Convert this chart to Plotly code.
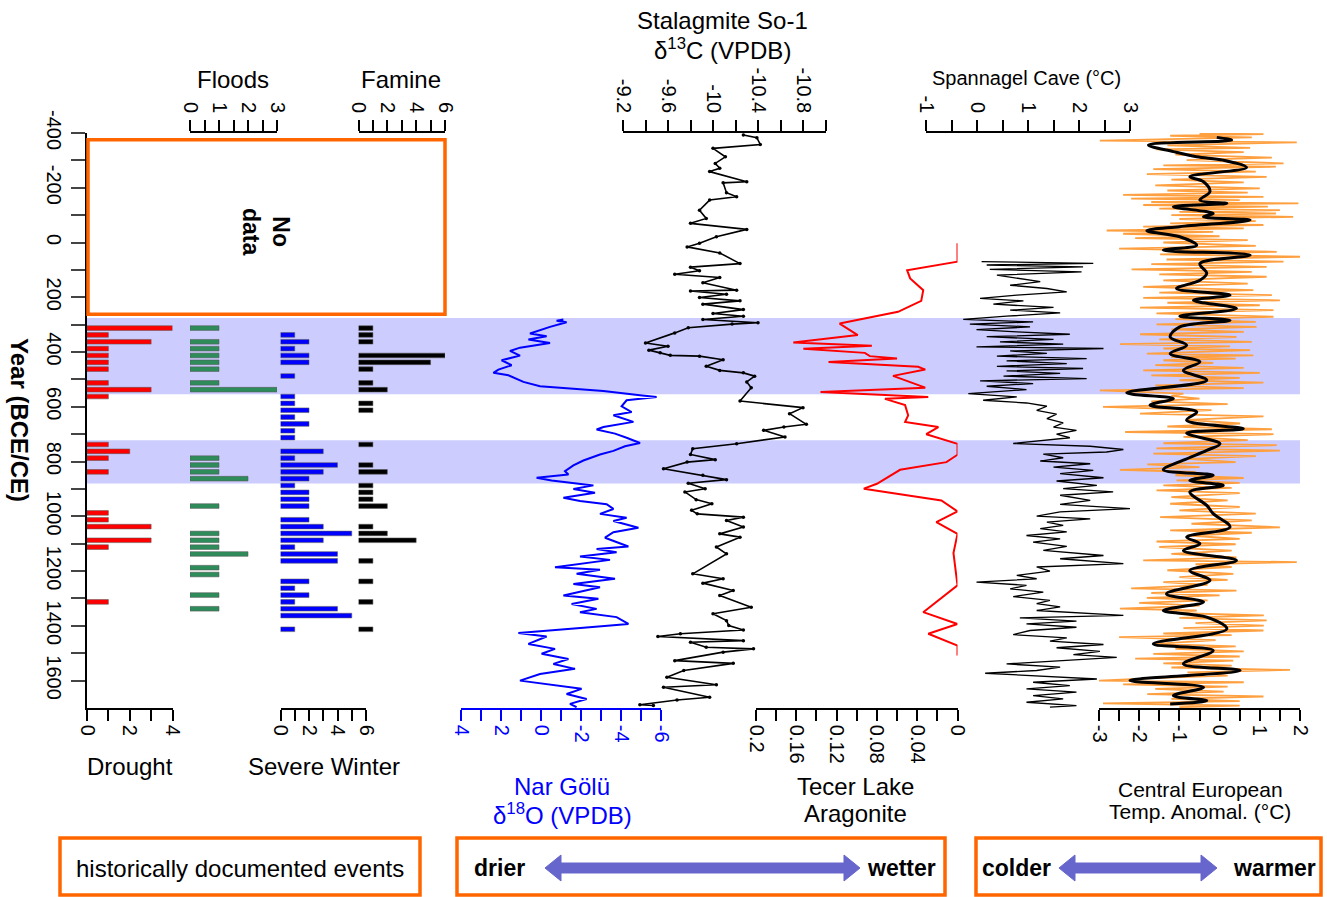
import plotly.graph_objects as go

W, H = 1327, 897
FONT = "Liberation Sans, Arial, sans-serif"

# ---------------- DATA ----------------
# Historically documented events (25-year bins, bin centre year, count)
drought_year = [312.5, 337.5, 362.5, 387.5, 412.5, 437.5, 462.5, 512.5, 537.5, 562.5,
                737.5, 762.5, 787.5, 837.5, 987.5, 1012.5, 1037.5, 1087.5, 1112.5, 1312.5]
drought_count = [4, 1, 3, 1, 1, 1, 1, 1, 3, 1, 1, 2, 1, 1, 1, 1, 3, 3, 1, 1]

flood_year = [312.5, 362.5, 387.5, 412.5, 437.5, 462.5, 512.5, 537.5, 787.5, 812.5, 837.5,
              862.5, 962.5, 1062.5, 1087.5, 1112.5, 1137.5, 1187.5, 1212.5, 1287.5, 1337.5]
flood_count = [1, 1, 1, 1, 1, 1, 1, 3, 1, 1, 1, 2, 1, 1, 1, 1, 2, 1, 1, 1, 1]

winter_year = [337.5, 362.5, 387.5, 412.5, 437.5, 487.5, 562.5, 587.5, 612.5, 637.5, 662.5,
               687.5, 712.5, 762.5, 787.5, 812.5, 837.5, 862.5, 887.5, 912.5, 937.5, 962.5,
               1012.5, 1037.5, 1062.5, 1087.5, 1112.5, 1137.5, 1162.5, 1237.5, 1262.5,
               1287.5, 1312.5, 1337.5, 1362.5, 1412.5]
winter_count = [1, 2, 1, 2, 2, 1, 1, 1, 2, 1, 2, 1, 1, 3, 1, 4, 3, 2, 1, 2, 2, 2, 2, 3, 5, 3,
                1, 4, 4, 2, 1, 2, 1, 4, 5, 1]

famine_year = [312.5, 337.5, 362.5, 412.5, 437.5, 462.5, 512.5, 537.5, 587.5, 612.5, 737.5,
               812.5, 837.5, 887.5, 912.5, 937.5, 962.5, 1037.5, 1062.5, 1087.5, 1162.5,
               1237.5, 1312.5, 1412.5]
famine_count = [1, 1, 1, 6, 5, 1, 1, 2, 1, 1, 1, 1, 2, 1, 1, 1, 2, 1, 2, 4, 1, 1, 1, 1]

# Nar Golu d18O
nar_year = [281, 286, 291, 308, 332, 342, 354, 367, 384, 396, 413, 430, 448, 464, 476, 485,
            509, 525, 534, 542, 558, 564, 576, 598, 619, 631, 655, 674, 683, 698, 713, 732,
            744, 761, 774, 796, 814, 835, 847, 859, 869, 876, 887, 900, 914, 932, 944, 956,
            973, 991, 1005, 1017, 1042, 1058, 1078, 1110, 1119, 1131, 1147, 1159, 1186, 1195,
            1210, 1228, 1247, 1259, 1289, 1301, 1320, 1338, 1350, 1368, 1393, 1407, 1426,
            1439, 1466, 1484, 1502, 1521, 1539, 1557, 1576, 1600, 1615, 1630, 1649, 1667,
            1685, 1697]
nar_d18o = [-1.12, -0.78, -1.28, -0.45, 0.55, -0.28, 0.63, -0.45, 1.05, 1.55, 1.05, 1.97,
            1.47, 2.13, 2.38, 1.63, 0.88, 0.05, -1.62, -3.12, -4.95, -5.78, -4.28, -4.03,
            -4.53, -3.62, -4.62, -3.12, -2.78, -3.70, -4.28, -4.95, -4.20, -3.62, -2.95,
            -2.12, -1.62, -1.20, -1.37, 0.22, -0.53, -1.28, -2.62, -1.62, -2.70, -1.12,
            -1.95, -3.28, -3.62, -2.95, -4.28, -3.62, -4.87, -3.62, -3.20, -4.37, -2.78,
            -3.78, -1.95, -3.45, -0.70, -2.95, -1.78, -3.70, -1.62, -2.95, -1.12, -2.87,
            -1.53, -2.78, -1.95, -3.78, -4.37, -2.12, 1.13, -0.28, 0.63, -0.70, -0.03,
            -1.37, -0.62, -1.70, 0.05, 1.05, -0.62, -2.03, -1.28, -2.28, -1.45, -1.78]

# Stalagmite So-1 d13C
so1_year = [-393, -383, -358, -344, -313, -289, -271, -259, -222, -218, -182, -167, -155,
            -118, -88, -70, -48, -21, 3, 16, 38, 77, 90, 103, 116, 128, 147, 174, 177, 189,
            201, 213, 225, 245, 259, 269, 281, 293, 298, 311, 330, 367, 379, 393, 403, 412,
            415, 428, 452, 467, 476, 488, 509, 530, 579, 603, 625, 664, 674, 686, 710, 735,
            753, 774, 793, 802, 826, 850, 866, 879, 899, 911, 939, 954, 978, 991, 1003, 1015,
            1039, 1064, 1076, 1112, 1137, 1210, 1228, 1244, 1271, 1289, 1332, 1356, 1381,
            1399, 1415, 1429, 1439, 1454, 1460, 1478, 1484, 1496, 1527, 1537, 1563, 1588,
            1615, 1624, 1661, 1671, 1688, 1691]
so1_d13c = [-10.27, -10.39, -10.42, -10.00, -10.11, -10.02, -10.06, -9.97, -10.30, -10.09,
            -10.12, -10.21, -9.97, -9.88, -9.94, -9.80, -10.30, -10.03, -9.88, -9.77,
            -10.06, -10.24, -9.80, -9.88, -9.66, -10.06, -9.91, -10.21, -9.80, -10.12,
            -9.88, -10.24, -9.91, -10.27, -10.00, -10.27, -9.91, -10.40, -10.17, -9.78,
            -9.66, -9.40, -9.60, -9.43, -9.53, -9.62, -9.88, -10.09, -9.94, -10.06, -10.27,
            -10.37, -10.30, -10.34, -10.24, -10.80, -10.68, -10.83, -10.63, -10.45, -10.64,
            -10.21, -9.82, -9.80, -10.02, -9.77, -9.56, -9.91, -10.12, -9.78, -9.93, -9.75,
            -9.85, -9.99, -9.81, -9.86, -10.27, -10.12, -10.27, -10.06, -10.24, -10.03,
            -10.12, -9.82, -10.09, -9.91, -10.18, -10.06, -10.34, -10.00, -10.12, -10.14,
            -10.27, -9.71, -9.51, -10.27, -9.80, -9.94, -10.36, -10.09, -9.66, -10.18,
            -9.74, -9.59, -10.03, -9.56, -9.97, -9.68, -9.35, -9.47]

# Tecer Lake aragonite
tecer_year = [3, 70, 101, 131, 174, 213, 253, 290, 296, 338, 365, 377, 388, 403, 415, 424,
              436, 454, 464, 487, 530, 546, 564, 571, 594, 631, 655, 674, 700, 735, 775, 802,
              830, 881, 899, 942, 982, 1021, 1064, 1134, 1252, 1350, 1393, 1429, 1472, 1508]
tecer_arag = [0.0, 0.0, 0.050, 0.047, 0.034, 0.036, 0.059, 0.107, 0.117, 0.099, 0.163,
              0.085, 0.153, 0.092, 0.087, 0.060, 0.128, 0.039, 0.032, 0.064, 0.032, 0.136,
              0.029, 0.072, 0.052, 0.049, 0.052, 0.019, 0.031, 0.0, 0.0, 0.011, 0.057,
              0.080, 0.093, 0.016, 0.0, 0.021, 0.0, 0.004, 0.0, 0.034, 0.0, 0.029, 0.0, 0.0]

# Spannagel Cave temperature (deg C)
span_year = [70, 76, 82, 89, 98, 107, 119, 131, 143, 156, 168, 180, 192, 204, 213, 225, 237,
             247, 257, 269, 281, 290, 298, 308, 318, 326, 335, 344, 354, 363, 371, 381, 387,
             396, 405, 415, 424, 432, 442, 452, 460, 469, 478, 488, 497, 505, 515, 525, 537,
             552, 564, 576, 586, 598, 613, 627, 643, 659, 674, 686, 700, 713, 734, 744, 756,
             765, 773, 786, 798, 808, 820, 832, 844, 859, 871, 887, 899, 911, 923, 942, 956,
             972, 984, 999, 1009, 1021, 1033, 1045, 1057, 1070, 1082, 1094, 1110, 1124, 1143,
             1155, 1173, 1185, 1200, 1216, 1228, 1240, 1252, 1265, 1277, 1293, 1307, 1319,
             1331, 1344, 1362, 1371, 1383, 1393, 1405, 1417, 1432, 1444, 1456, 1468, 1480,
             1493, 1505, 1515, 1527, 1539, 1551, 1563, 1573, 1582, 1594, 1606, 1618, 1630,
             1642, 1655, 1667, 1679, 1691, 1697]
span_temp = [0.09, 2.28, 0.19, 2.08, 0.25, 2.05, 0.39, 0.78, 1.24, 0.65, 1.37, 1.76, 0.78,
             0.06, 0.91, 0.32, 1.50, 0.65, 1.63, 0.58, -0.27, 1.10, -0.14, 1.04, -0.01, 0.78,
             1.82, 0.19, 1.50, 0.45, 1.69, -0.01, 2.48, 0.65, 1.37, 0.39, 2.15, 0.58, 1.76,
             0.39, 2.08, 0.58, 1.63, 0.52, 2.15, 0.06, 1.10, 0.19, 0.97, -0.17, 0.78, 0.12,
             0.97, 1.37, 1.17, 1.56, 1.37, 1.69, 1.50, 1.95, 1.56, 1.82, 0.71, 2.22, 2.87,
             2.54, 1.30, 1.69, 1.24, 2.22, 1.50, 2.28, 1.63, 2.48, 1.56, 2.35, 1.69, 2.67,
             1.63, 2.22, 1.63, 3.00, 1.63, 1.17, 2.22, 1.37, 1.69, 1.24, 1.76, 0.97, 1.63,
             1.10, 1.76, 1.30, 2.48, 1.63, 2.87, 1.17, 1.43, 0.78, 1.17, -0.01, 0.97, 0.65,
             1.30, 0.71, 1.43, 1.17, 1.63, 1.17, 2.87, 0.84, 1.95, 0.97, 1.95, 1.04, 0.71,
             1.76, 1.43, 2.48, 1.56, 2.41, 1.89, 2.74, 1.63, 0.58, 1.63, 1.17, 0.16, 1.10,
             2.35, 1.10, 1.82, 0.97, 1.95, 1.10, 1.69, 0.97, 1.95, 1.43]

# Central European temperature anomaly: raw (orange) and smoothed (black)
cet_year = [-398, -396, -390, -384, -372, -366, -355, -346, -340, -330, -321, -310, -301,
            -289, -282, -277, -268, -259, -250, -240, -230, -220, -209, -198, -190, -182,
            -174, -167, -160, -155, -148, -143, -137, -131, -124, -118, -112, -106, -100,
            -94, -86, -78, -70, -64, -58, -52, -44, -39, -32, -23, -16, -9, 0, 12, 22, 34,
            43, 52, 62, 70, 79, 89, 98, 107, 116, 125, 138, 150, 162, 174, 183, 192, 202,
            211, 220, 229, 238, 247, 259, 271, 280, 290, 299, 308, 317, 326, 335, 345, 354,
            363, 371, 379, 387, 393, 406, 412, 418, 424, 430, 440, 448, 458, 467, 476, 485,
            494, 503, 512, 522, 532, 540, 552, 560, 570, 580, 590, 600, 612, 625, 635, 648,
            661, 672, 682, 692, 700, 710, 722, 733, 740, 752, 760, 771, 780, 790, 802, 810,
            820, 830, 838, 850, 860, 869, 878, 887, 896, 905, 915, 930, 942, 954, 966, 978,
            990, 1003, 1015, 1027, 1040, 1051, 1060, 1070, 1082, 1092, 1102, 1112, 1125,
            1137, 1150, 1161, 1167, 1175, 1185, 1197, 1210, 1222, 1232, 1240, 1250, 1263,
            1271, 1280, 1289, 1298, 1307, 1316, 1326, 1337, 1344, 1353, 1362, 1371, 1380,
            1390, 1399, 1408, 1417, 1428, 1434, 1441, 1452, 1466, 1475, 1484, 1493, 1502,
            1512, 1520, 1527, 1537, 1545, 1552, 1561, 1570, 1582, 1590, 1600, 1606, 1614,
            1622, 1630, 1640, 1649, 1658, 1667, 1675, 1683, 1691, 1697]
cet_raw = [-0.5, 1.09, -1.23, 0.8, -2.98, 1.92, -1.3, 0.76, -1.57, 0.6, -1.1, 1.3, -0.82,
           1.59, -1.4, 1.4, -1.65, 0.9, -1.81, 1.17, -1.2, 0.6, -1.6, 1.0, -1.3, 0.7, -2.4,
           1.09, -2.2, 0.5, -1.7, 1.96, -1.9, 1.2, -1.5, 1.5, -1.0, 1.4, -1.2, 1.83, -1.0,
           0.9, -1.23, 1.09, -1.9, 0.6, -2.81, -0.16, -2.4, 0.0, -2.1, 0.7, -1.4, 0.9, -2.5,
           1.42, -1.48, 2.0, -1.32, 1.59, -1.7, 1.17, -2.19, 0.8, -1.5, 1.17, -1.4, 0.7,
           -1.9, 0.84, -1.5, 1.3, -1.9, 1.5, -1.3, 1.0, -1.98, 1.34, -1.57, 1.34, -1.1, 0.9,
           -1.57, 0.92, -1.2, 0.6, -1.98, 0.42, -1.5, 0.8, -2.48, 0.26, -1.4, 0.76, -1.81,
           0.84, -1.2, 0.4, -1.4, -0.16, -1.6, 0.6, -1.9, 1.0, -1.7, 0.5, -1.0, 1.09, -1.6,
           0.6, -2.98, -0.9, -1.2, -0.5, -1.7, 0.2, -2.9, -0.2, -1.98, 1.09, -0.8, 0.51,
           -1.3, 1.3, -2.35, 1.34, -0.9, 0.7, -1.4, 1.42, -1.57, 1.5, -1.65, 0.9, -0.8, 0.4,
           -1.8, -0.5, -2.48, -0.6, -1.1, 0.6, -1.07, 0.5, -1.4, 0.3, -1.57, 0.5, -1.2, 0.2,
           -1.23, 0.5, -1.0, 0.9, -1.48, 0.8, -0.7, 1.5, -1.23, 0.8, -0.8, 0.5, -1.57, 0.4,
           -1.5, 0.3, -1.2, 0.42, -1.9, 1.92, -0.6, 0.3, -1.3, 0.34, -1.0, 0.2, -1.4, -0.3,
           -2.2, 0.42, -1.7, 0.0, -1.81, -0.3, -2.0, -0.5, -2.48, -0.57, -1.2, 1.1, -1.0,
           1.17, -0.6, 1.1, -0.9, 1.09, -1.4, 0.3, -2.5, -0.1, -1.6, 0.4, -1.1, 0.6, -1.65,
           0.5, -2.1, 0.34, -1.4, 0.3, -1.2, 1.75, -0.8, 0.2, -1.5, -3.0, 0.6, -2.4, 0.2,
           -1.6, 0.1, -1.8, 1.09, -1.2, 0.5, -2.9, 0.5, -1.0]

cet_smooth_year = [-384, -374, -356, -332, -313, -301, -274, -240, -222, -186, -155, -143,
                   -131, -106, -94, -82, -58, -43, -21, 10, 28, 46, 77, 113, 138, 168, 192,
                   211, 241, 269, 284, 308, 345, 375, 406, 436, 467, 503, 549, 570, 594,
                   619, 649, 680, 696, 735, 759, 795, 830, 850, 869, 887, 911, 960, 990,
                   1039, 1076, 1100, 1125, 1161, 1198, 1234, 1283, 1313, 1344, 1368, 1411,
                   1466, 1490, 1539, 1563, 1600, 1624, 1655, 1673, 1685]
cet_smooth = [-0.07, 0.30, -1.77, -1.15, -0.57, 0.09, 0.67, -0.74, -0.40, -0.24, -0.49,
              0.18, -1.15, -0.16, -0.40, 0.76, -0.99, -1.81, -0.99, -0.57, -1.40, 0.76,
              -0.49, -0.32, -0.49, -1.07, 0.26, -0.65, 0.42, -0.99, 0.26, -0.99, -1.23,
              -0.82, -1.23, -0.49, -0.90, -0.32, -2.31, -1.15, -1.73, -0.57, -0.82, 0.59,
              -0.82, 0.01, -0.32, -0.90, -1.40, -0.16, -0.74, 0.09, -0.74, -0.32, -0.16,
              0.26, -0.82, -0.49, -0.90, 0.42, -0.74, -0.24, -1.32, -0.40, -1.40, -0.32,
              0.18, -1.65, -0.16, -0.90, 0.51, -2.23, -0.40, -1.15, -0.32, -1.23]

# Highlighted periods and "no data" interval (years)
bands = [(276, 554), (722, 880)]
no_data = (-375, 262)

# Axis ticks
year_ticks = list(range(-400, 1700, 100))
year_labels = [str(v) if v % 200 == 0 else "" for v in year_ticks]

# ---------------- HELPERS (layout positions in pixels) ----------------
def fx(px):
    return px / W


def fy(py):
    return 1 - py / H


def xaxis(px0, px1, rng, tv, tt, side, color="black"):
    return dict(domain=[fx(px0), fx(px1)], range=rng, anchor="y", side=side,
                showline=True, linecolor=color, linewidth=1.6, ticks="outside",
                ticklen=11, tickwidth=1.6, tickcolor=color, tickvals=tv, ticktext=tt,
                tickangle=90, tickfont=dict(size=20, color=color, family=FONT),
                showgrid=False, zeroline=False, fixedrange=True, automargin=False)


def lab(vals, show):
    return [(str(v) if v in show else "") for v in vals]


fig = go.Figure()

bar_line = dict(color="rgba(90,90,90,0.55)", width=1)
fig.add_trace(go.Bar(x=drought_count, y=drought_year, orientation="h", width=17,
                     marker=dict(color="#FF0000", line=bar_line), xaxis="x", yaxis="y"))
fig.add_trace(go.Bar(x=flood_count, y=flood_year, orientation="h", width=17,
                     marker=dict(color="#2E8B5A", line=bar_line), xaxis="x2", yaxis="y"))
fig.add_trace(go.Bar(x=winter_count, y=winter_year, orientation="h", width=17,
                     marker=dict(color="#0000FF", line=bar_line), xaxis="x3", yaxis="y"))
fig.add_trace(go.Bar(x=famine_count, y=famine_year, orientation="h", width=17,
                     marker=dict(color="#000000", line=bar_line), xaxis="x4", yaxis="y"))

fig.add_trace(go.Scatter(x=nar_d18o, y=nar_year, mode="lines",
                         line=dict(color="#0000FF", width=2), xaxis="x5", yaxis="y"))
fig.add_trace(go.Scatter(x=so1_d13c, y=so1_year, mode="lines+markers",
                         line=dict(color="black", width=1.6), marker=dict(size=3.5, color="black"),
                         xaxis="x6", yaxis="y"))
fig.add_trace(go.Scatter(x=tecer_arag, y=tecer_year, mode="lines",
                         line=dict(color="#FF0000", width=2), xaxis="x7", yaxis="y"))
fig.add_trace(go.Scatter(x=span_temp, y=span_year, mode="lines",
                         line=dict(color="black", width=1.3), xaxis="x8", yaxis="y"))
fig.add_trace(go.Scatter(x=cet_raw, y=cet_year, mode="lines",
                         line=dict(color="#FFA040", width=1.8), xaxis="x9", yaxis="y"))
fig.add_trace(go.Scatter(x=cet_smooth, y=cet_smooth_year, mode="lines",
                         line=dict(color="black", width=3, shape="spline"), xaxis="x9", yaxis="y"))

int_vals4 = [0, 1, 2, 3, 4]
flood_vals = [0, 0.5, 1, 1.5, 2, 2.5, 3]
six_vals = [0, 1, 2, 3, 4, 5, 6]
nar_vals = [4, 3, 2, 1, 0, -1, -2, -3, -4, -5, -6]
so1_vals = [-9.2, -9.4, -9.6, -9.8, -10.0, -10.2, -10.4, -10.6, -10.8, -11.0]
so1_text = ["-9.2", "", "-9.6", "", "-10", "", "-10.4", "", "-10.8", ""]
tec_vals = [0.2, 0.18, 0.16, 0.14, 0.12, 0.1, 0.08, 0.06, 0.04, 0.02, 0.0]
tec_text = ["0.2", "", "0.16", "", "0.12", "", "0.08", "", "0.04", "", "0"]
span_vals = [-1, -0.5, 0, 0.5, 1, 1.5, 2, 2.5, 3]
span_text = ["-1", "", "0", "", "1", "", "2", "", "3"]
cet_vals = [-3, -2.5, -2, -1.5, -1, -0.5, 0, 0.5, 1, 1.5, 2]
cet_text = ["-3", "", "-2", "", "-1", "", "0", "", "1", "", "2"]

layout = dict(
    width=W, height=H, margin=dict(l=0, r=0, t=0, b=0, autoexpand=False),
    paper_bgcolor="white", plot_bgcolor="rgba(0,0,0,0)", showlegend=False,
    font=dict(family=FONT, color="black"),
    xaxis=xaxis(87, 172.5, [0, 4], int_vals4, lab(int_vals4, [0, 2, 4]), "bottom"),
    xaxis2=xaxis(190, 277, [0, 3], flood_vals, lab(flood_vals, [0, 1, 2, 3]), "top"),
    xaxis3=xaxis(280.5, 366, [0, 6], six_vals, lab(six_vals, [0, 2, 4, 6]), "bottom"),
    xaxis4=xaxis(358.5, 445, [0, 6], six_vals, lab(six_vals, [0, 2, 4, 6]), "top"),
    xaxis5=xaxis(461, 661, [4, -6], nar_vals, lab(nar_vals, [4, 2, 0, -2, -4, -6]),
                 "bottom", color="#0000FF"),
    xaxis6=xaxis(623, 825.5, [-9.2, -11.0], so1_vals, so1_text, "top"),
    xaxis7=xaxis(756, 957.5, [0.2, 0.0], tec_vals, tec_text, "bottom"),
    xaxis8=xaxis(926, 1130, [-1, 3], span_vals, span_text, "top"),
    xaxis9=xaxis(1099, 1300, [-3, 2], cet_vals, cet_text, "bottom"),
    yaxis=dict(domain=[fy(708), fy(133)], range=[1700, -400], anchor="x",
               showline=True, linecolor="black", linewidth=1.6, ticks="outside",
               ticklen=14, tickwidth=1.6, tickvals=year_ticks, ticktext=year_labels,
               tickangle=90, tickfont=dict(size=20, family=FONT),
               showgrid=False, zeroline=False, fixedrange=True, automargin=False),
)
fig.update_layout(**layout)

shapes = []
for b0, b1 in bands:
    shapes.append(dict(type="rect", xref="paper", yref="y", x0=fx(87), x1=fx(1300),
                       y0=b0, y1=b1, fillcolor="#CCCCFF", line=dict(width=0), layer="below"))
shapes.append(dict(type="rect", xref="paper", yref="y", x0=fx(88), x1=fx(445),
                   y0=no_data[0], y1=no_data[1], line=dict(color="#FF6600", width=3.5)))
for (a, b) in [(60, 420), (457, 945), (976, 1321)]:
    shapes.append(dict(type="rect", xref="paper", yref="paper", x0=fx(a), x1=fx(b),
                       y0=fy(895), y1=fy(838), line=dict(color="#FF6600", width=3.5)))


def arrow_path(x0, x1, yc, hl=16, hh=13, sh=5):
    pts = [(x0, yc), (x0 + hl, yc - hh), (x0 + hl, yc - sh), (x1 - hl, yc - sh),
           (x1 - hl, yc - hh), (x1, yc), (x1 - hl, yc + hh), (x1 - hl, yc + sh),
           (x0 + hl, yc + sh), (x0 + hl, yc + hh)]
    return "M " + " L ".join(f"{fx(px):.5f},{fy(py):.5f}" for px, py in pts) + " Z"


for (a, b) in [(545, 860), (1059, 1217)]:
    shapes.append(dict(type="path", xref="paper", yref="paper", path=arrow_path(a, b, 868),
                       fillcolor="#6666CC", line=dict(color="#6666CC", width=1)))
fig.update_layout(shapes=shapes)


def ann(text, px, py, size=24, color="black", bold=False, angle=0):
    t = f"<b>{text}</b>" if bold else text
    return dict(text=t, x=fx(px), y=fy(py), xref="paper", yref="paper", showarrow=False,
                xanchor="center", yanchor="middle", textangle=angle,
                font=dict(size=size, color=color, family=FONT))


annotations = [
    ann("Floods", 233, 80),
    ann("Famine", 401, 80),
    ann("Stalagmite So-1", 722, 20),
    ann("δ<sup>13</sup>C (VPDB)", 722, 49),
    ann("Spannagel Cave (°C)", 1026, 78, size=20),
    ann("Drought", 130, 766),
    ann("Severe Winter", 324, 766),
    ann("Nar Gölü", 562, 786, color="#0000FF"),
    ann("δ<sup>18</sup>O (VPDB)", 562, 814, color="#0000FF"),
    ann("Tecer Lake", 855, 786),
    ann("Aragonite", 855, 813),
    ann("Central European", 1200, 789, size=21),
    ann("Temp. Anomal. (°C)", 1200, 811, size=21),
    ann("Year (BCE/CE)", 20, 420, size=24, bold=True, angle=90),
    ann("No<br>data", 266, 232, size=23, bold=True, angle=90),
    ann("historically documented events", 240, 868),
    ann("drier", 499, 868, size=23, bold=True),
    ann("wetter", 901, 868, size=23, bold=True),
    ann("colder", 1016, 868, size=23, bold=True),
    ann("warmer", 1274, 868, size=23, bold=True),
]
fig.update_layout(annotations=annotations)

fig.write_html("out.html", config={"displayModeBar": False},
               post_script="document.body.style.margin='0px';")
